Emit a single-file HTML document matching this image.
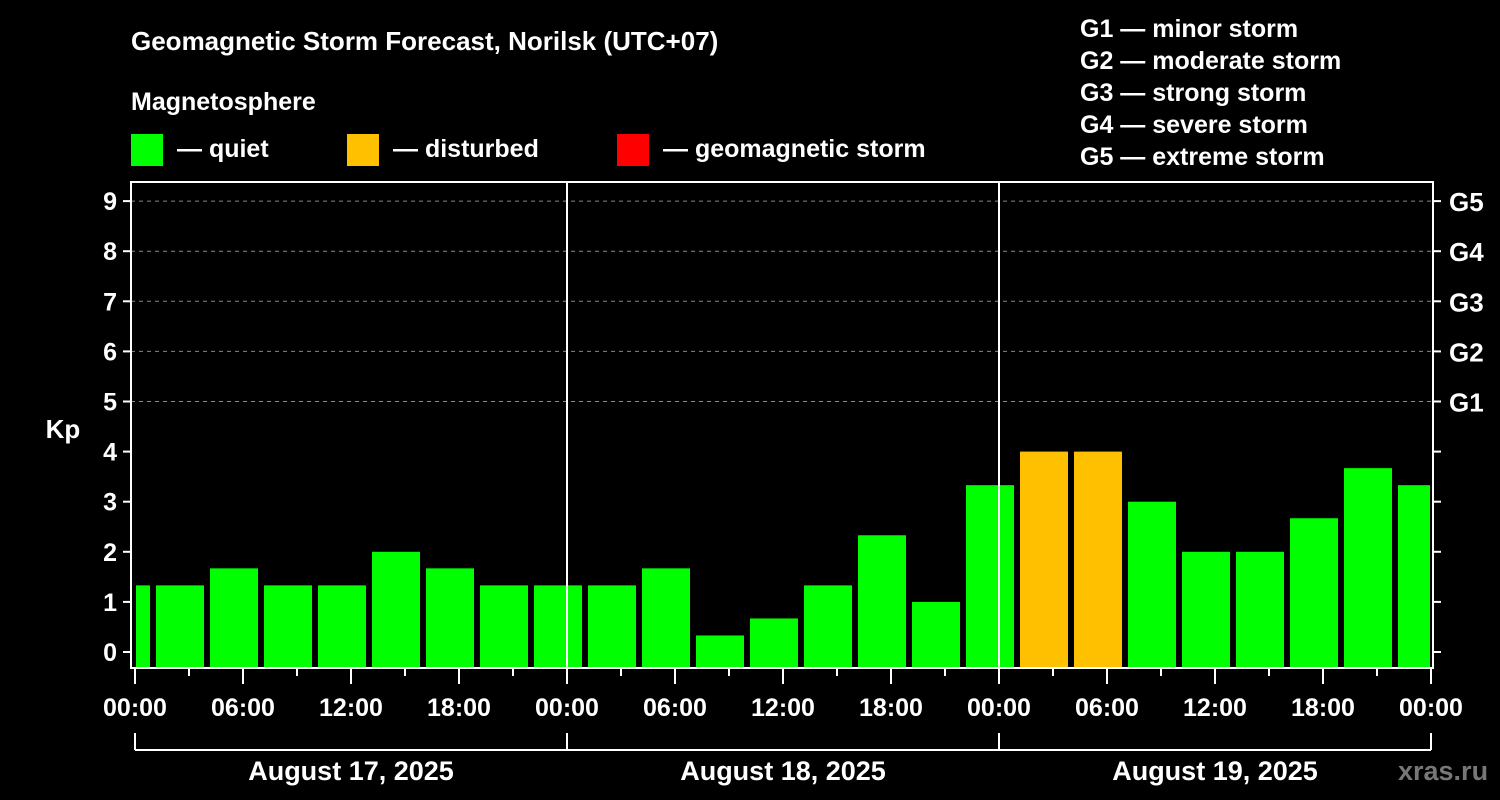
<!DOCTYPE html>
<html><head><meta charset="utf-8"><style>
body{margin:0;background:#000;width:1500px;height:800px;overflow:hidden}
svg{display:block;font-family:"Liberation Sans",Arial,sans-serif;font-weight:bold;fill:#fff}
</style></head><body>
<svg id="chart" width="1500" height="800" viewBox="0 0 1500 800">
<text x="131" y="50" font-size="26">Geomagnetic Storm Forecast, Norilsk (UTC+07)</text>
<text x="131" y="110" font-size="25">Magnetosphere</text>
<g>
<rect x="131" y="134" width="32" height="32" fill="#00ff00"/>
<text x="177" y="157" font-size="25">— quiet</text>
<rect x="347" y="134" width="32" height="32" fill="#ffc000"/>
<text x="393" y="157" font-size="25">— disturbed</text>
<rect x="617" y="134" width="32" height="32" fill="#ff0000"/>
<text x="663" y="157" font-size="25">— geomagnetic storm</text>
</g>
<g font-size="25">
<text x="1080" y="37">G1 — minor storm</text>
<text x="1080" y="69">G2 — moderate storm</text>
<text x="1080" y="101">G3 — strong storm</text>
<text x="1080" y="133">G4 — severe storm</text>
<text x="1080" y="165">G5 — extreme storm</text>
</g>
<g id="plot"></g>
<text x="63" y="438" font-size="26" text-anchor="middle">Kp</text>
<text x="1398" y="780" font-size="27" fill="#777" style="fill:#777">xras.ru</text>
</svg>
<script>
const kpValues=[1.33,1.33,1.67,1.33,1.33,2,1.67,1.33,1.33,1.33,1.67,0.33,0.67,1.33,2.33,1,3.33,4,4,3,2,2,2.67,3.67,3.33];
const barStartHours=[-2,1,4,7,10,13,16,19,22,25,28,31,34,37,40,43,46,49,52,55,58,61,64,67,70];
const yTicks=[0,1,2,3,4,5,6,7,8,9];
const gLabels=["G1","G2","G3","G4","G5"];
const hourLabels=["00:00","06:00","12:00","18:00","00:00","06:00","12:00","18:00","00:00","06:00","12:00","18:00","00:00"];
const dayLabels=["August 17, 2025","August 18, 2025","August 19, 2025"];
const NS="http://www.w3.org/2000/svg";
const L=131,R=1433,T=182,B=668,X0=135,PXH=18;
const x=h=>X0+h*PXH, y=k=>652-k*50.1;
const g=document.getElementById('plot');
function mk(t,a,txt){const e=document.createElementNS(NS,t);for(const k in a)e.setAttribute(k,a[k]);if(txt!==undefined)e.textContent=txt;g.appendChild(e);return e;}
// grid
for(let k=5;k<=9;k++){const e=mk('line',{x1:L,x2:R,y1:y(k),y2:y(k),stroke:'#888','stroke-width':1,'stroke-dasharray':'4 4'});

}
// bars
const clip=mk('clipPath',{id:'pc'});const cr=document.createElementNS(NS,'rect');cr.setAttribute('x',L+3);cr.setAttribute('y',T);cr.setAttribute('width',R-L-3);cr.setAttribute('height',B-T);clip.appendChild(cr);
kpValues.forEach((v,i)=>{const x1=Math.max(x(barStartHours[i])+3,X0+1),x2=Math.min(x(barStartHours[i]+3)-3,R-3);
const col=v>=5?'#ff0000':(v>=4?'#ffc000':'#00ff00');
const e=mk('rect',{x:x1,y:y(v),width:x2-x1,height:B-y(v),fill:col});

});
// day separators
[24,48].forEach(h=>{const e=mk('line',{x1:x(h),x2:x(h),y1:T,y2:B,stroke:'#fff','stroke-width':2});

});
// frame
const f=mk('rect',{x:L,y:T,width:R-L,height:B-T,fill:'none',stroke:'#fff','stroke-width':2});


// y ticks
yTicks.forEach(k=>{mk('line',{x1:L-8,x2:L,y1:y(k),y2:y(k),stroke:'#fff','stroke-width':2});
mk('line',{x1:R,x2:R+8,y1:y(k),y2:y(k),stroke:'#fff','stroke-width':2});
const t=mk('text',{x:L-14,y:y(k)+9,'font-size':25,'text-anchor':'end'},String(k));

});
gLabels.forEach((s,i)=>{const t=mk('text',{x:1449,y:y(5+i)+10,'font-size':26},s);

});
// x ticks
for(let h=0;h<=72;h+=3){const major=h%6===0;mk('line',{x1:x(h),x2:x(h),y1:B,y2:B+(major?16:8),stroke:'#fff','stroke-width':2});}
hourLabels.forEach((s,i)=>{const t=mk('text',{x:x(i*6),y:716,'font-size':25,'text-anchor':'middle'},s);

});
// day bracket
mk('line',{x1:x(0),x2:x(72),y1:750,y2:750,stroke:'#fff','stroke-width':2});
[0,24,48,72].forEach(h=>mk('line',{x1:x(h),x2:x(h),y1:733,y2:750,stroke:'#fff','stroke-width':2}));
dayLabels.forEach((s,i)=>{const t=mk('text',{x:x(i*24+12),y:780,'font-size':27,'text-anchor':'middle'},s);

});
</script>
</body></html>
